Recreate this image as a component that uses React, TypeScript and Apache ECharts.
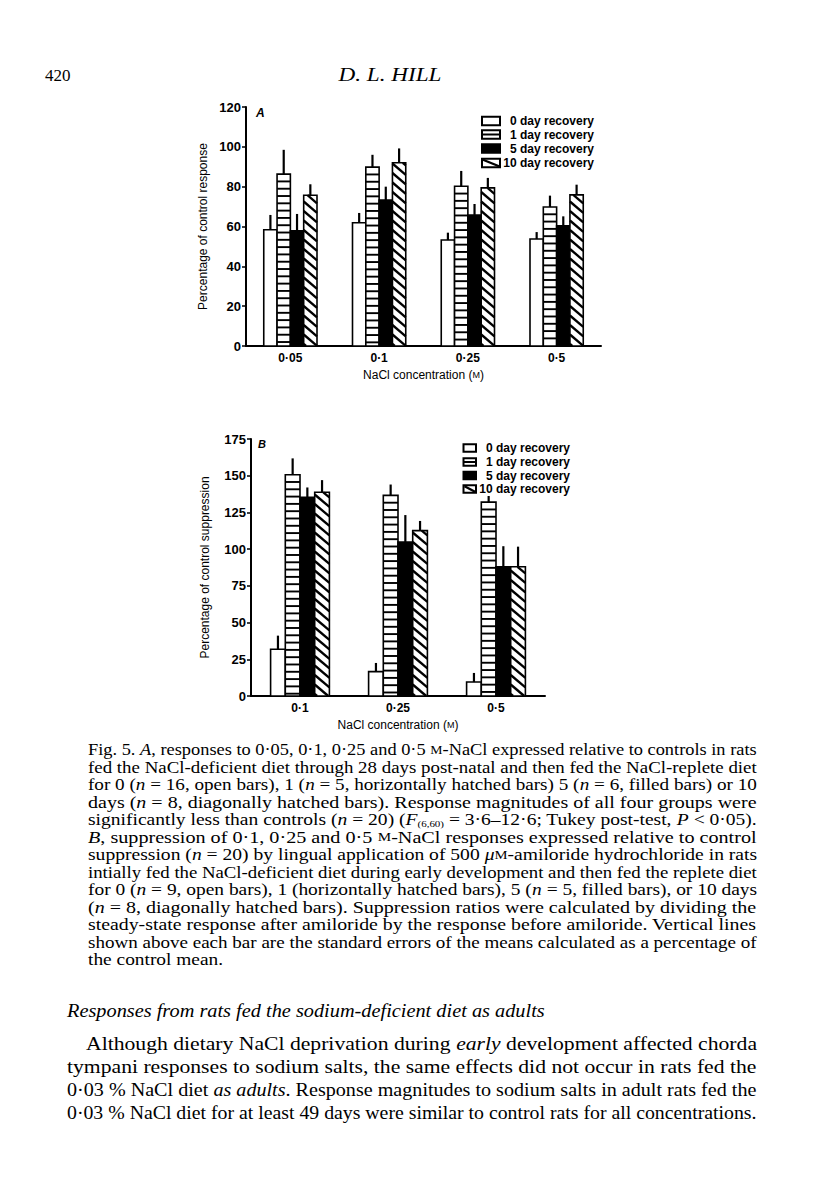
import React, { useEffect, useRef } from "react";
import * as echarts from "echarts";

// ---------- data ----------
const catsA = ["0·05", "0·1", "0·25", "0·5"];
const catsB = ["0·1", "0·25", "0·5"];
const groups = ["0 day recovery", "1 day recovery", "5 day recovery", "10 day recovery"];
const kinds = ["open", "hstripe", "filled", "diag"];

// Panel A: percentage of control response (means and s.e.m.)
const meanA0 = [58.4, 61.9, 53.2, 53.7];
const meanA1 = [86.3, 89.8, 80.2, 69.8];
const meanA5 = [57.9, 73.3, 65.8, 60.3];
const meanA10 = [75.7, 92.0, 79.4, 75.9];
const semA0 = [7.4, 4.9, 3.7, 3.5];
const semA1 = [12.2, 6.2, 7.7, 5.7];
const semA5 = [8.4, 6.7, 5.5, 4.8];
const semA10 = [5.5, 7.2, 5.0, 5.1];

// Panel B: percentage of control suppression
const meanB0 = [31.8, 16.6, 9.5];
const meanB1 = [150.7, 136.6, 132.0];
const meanB5 = [135.3, 104.9, 88.0];
const meanB10 = [138.7, 112.6, 88.0];
const semB0 = [9.3, 5.9, 6.2];
const semB1 = [11.1, 7.4, 4.2];
const semB5 = [6.7, 18.3, 14.0];
const semB10 = [8.3, 6.6, 13.7];

const yMaxA = 120, yStepA = 20;
const yMaxB = 175, yStepB = 25;

// ---------- page text ----------
type Tok = [string, string];
const captionLines: Tok[][] = [
  [["Fig. 5. ", "r"], ["A", "i"], [", responses to 0·05, 0·1, 0·25 and 0·5 ", "r"], ["M", "sc"], ["-NaCl expressed relative to controls in rats", "r"]],
  [["fed the NaCl-deficient diet through 28 days post-natal and then fed the NaCl-replete diet", "r"]],
  [["for 0 (", "r"], ["n", "i"], [" = 16, open bars), 1 (", "r"], ["n", "i"], [" = 5, horizontally hatched bars) 5 (", "r"], ["n", "i"], [" = 6, filled bars) or 10", "r"]],
  [["days (", "r"], ["n", "i"], [" = 8, diagonally hatched bars). Response magnitudes of all four groups were", "r"]],
  [["significantly less than controls (", "r"], ["n", "i"], [" = 20) (", "r"], ["F", "i"], ["(6,60)", "sub"], [" = 3·6–12·6; Tukey post-test, ", "r"], ["P", "i"], [" < 0·05).", "r"]],
  [["B", "i"], [", suppression of 0·1, 0·25 and 0·5 ", "r"], ["M", "sc"], ["-NaCl responses expressed relative to control", "r"]],
  [["suppression (", "r"], ["n", "i"], [" = 20) by lingual application of 500 ", "r"], ["μ", "i"], ["M", "sc"], ["-amiloride hydrochloride in rats", "r"]],
  [["intially fed the NaCl-deficient diet during early development and then fed the replete diet", "r"]],
  [["for 0 (", "r"], ["n", "i"], [" = 9, open bars), 1 (horizontally hatched bars), 5 (", "r"], ["n", "i"], [" = 5, filled bars), or 10 days", "r"]],
  [["(", "r"], ["n", "i"], [" = 8, diagonally hatched bars). Suppression ratios were calculated by dividing the", "r"]],
  [["steady-state response after amiloride by the response before amiloride. Vertical lines", "r"]],
  [["shown above each bar are the standard errors of the means calculated as a percentage of", "r"]],
  [["the control mean.", "r"]],
];
const headingLine: Tok[] = [["Responses from rats fed the sodium-deficient diet as adults", "i"]];
const paraLines: Tok[][] = [
  [["Although dietary NaCl deprivation during ", "r"], ["early", "i"], [" development affected chorda", "r"]],
  [["tympani responses to sodium salts, the same effects did not occur in rats fed the", "r"]],
  [["0·03 % NaCl diet ", "r"], ["as adults", "i"], [". Response magnitudes to sodium salts in adult rats fed the", "r"]],
  [["0·03 % NaCl diet for at least 49 days were similar to control rats for all concentrations.", "r"]],
];

const SANS = "'Liberation Sans', Arial, Helvetica, sans-serif";
const SERIF = "'Liberation Serif', 'Times New Roman', serif";
const GROUP_FRACTION = 0.6;

function makeBarRender(k: number, kind: string) {
  return (_params: any, api: any) => {
    const cat = api.value(0);
    const mean = api.value(1);
    const errTop = api.value(2);
    const base = api.coord([cat, 0]);
    const topPt = api.coord([cat, mean]);
    const errPt = api.coord([cat, errTop]);
    const band = api.size([1, 0])[0];
    const w = (band * GROUP_FRACTION) / 4;
    const x0 = base[0] - 2 * w + k * w;
    const x1 = x0 + w;
    const top = topPt[1];
    const bottom = base[1];
    const children: any[] = [];
    children.push({
      type: "rect",
      shape: { x: x0, y: top, width: w, height: bottom - top },
      style: { fill: kind === "filled" ? "#000" : "#fff", stroke: "none" },
    });
    if (kind === "hstripe") {
      for (let y = top + 7.3; y < bottom - 1.5; y += 7.3) {
        children.push({
          type: "line",
          shape: { x1: x0, y1: y, x2: x1, y2: y },
          style: { stroke: "#000", lineWidth: 1.9 },
        });
      }
    }
    if (kind === "diag") {
      const s = 0.85;
      const p = 9.5;
      for (let c = bottom - 2; c > top - s * w - p; c -= p) {
        const xa = x0 + (top - c) / s;
        const xb = x0 + (bottom - c) / s;
        const sx = Math.max(x0, xa);
        const ex = Math.min(x1, xb);
        if (ex - sx > 0.6) {
          children.push({
            type: "line",
            shape: { x1: sx, y1: c + s * (sx - x0), x2: ex, y2: c + s * (ex - x0) },
            style: { stroke: "#000", lineWidth: 2.3 },
          });
        }
      }
    }
    children.push({
      type: "rect",
      shape: { x: x0, y: top, width: w, height: bottom - top },
      style: { fill: "none", stroke: "#000", lineWidth: 1.6 },
    });
    children.push({
      type: "line",
      shape: { x1: (x0 + x1) / 2, y1: top, x2: (x0 + x1) / 2, y2: errPt[1] },
      style: { stroke: "#000", lineWidth: 2.2 },
    });
    return { type: "group", children };
  };
}

function legendSymbol(kind: string, x: number, yc: number, w: number, h: number): any[] {
  const y = yc - h / 2;
  const els: any[] = [];
  els.push({
    type: "rect",
    shape: { x, y, width: w, height: h },
    style: { fill: kind === "filled" ? "#000" : "#fff", stroke: "#000", lineWidth: 2 },
  });
  if (kind === "hstripe") {
    els.push({ type: "line", shape: { x1: x, y1: yc, x2: x + w, y2: yc }, style: { stroke: "#000", lineWidth: 2 } });
  }
  if (kind === "diag") {
    els.push({ type: "line", shape: { x1: x + 1, y1: y + 1, x2: x + w - 1, y2: y + h - 1 }, style: { stroke: "#000", lineWidth: 2.4 } });
  }
  return els;
}

function nb(t: string) {
  return t.replace(/^ /, "\u00A0").replace(/ $/, "\u00A0");
}

export default function App() {
  const ref = useRef<HTMLDivElement>(null);
  useEffect(() => {
    if (!ref.current) return;
    const chart = echarts.init(ref.current, undefined, { renderer: "svg" });

    const ctx = document.createElement("canvas").getContext("2d") as CanvasRenderingContext2D;
    const mkStyles = (size: number) => ({
      r: { fontFamily: SERIF, fontSize: size, fill: "#000" },
      i: { fontFamily: SERIF, fontSize: size, fontStyle: "italic", fill: "#000" },
      sc: { fontFamily: SERIF, fontSize: Math.round(size * 0.74), fill: "#000" },
      sub: { fontFamily: SERIF, fontSize: Math.round(size * 0.58), fill: "#000", verticalAlign: "bottom" },
    });
    const measure = (toks: Tok[], styles: any) => {
      let w = 0;
      for (const [t, k] of toks) {
        const s = styles[k];
        ctx.font = `${s.fontStyle || "normal"} normal ${s.fontSize}px ${s.fontFamily}`;
        w += ctx.measureText(nb(t)).width;
      }
      return w;
    };
    const richStr = (toks: Tok[]) => toks.map(([t, k]) => `{${k}|${nb(t)}}`).join("");

    const textEls: any[] = [];
    const capStyles = mkStyles(16);
    const capScales: number[] = [];
    captionLines.forEach((toks, i) => {
      if (i < captionLines.length - 1) capScales.push(669 / measure(toks, capStyles));
    });
    const avgCap = capScales.reduce((a, b) => a + b, 0) / capScales.length;
    captionLines.forEach((toks, i) => {
      const sc = i < captionLines.length - 1 ? capScales[i] : avgCap;
      textEls.push({
        type: "text",
        x: 88,
        y: 750 + i * 17.5,
        scaleX: sc,
        style: { text: richStr(toks), rich: capStyles, fill: "#000", align: "left", verticalAlign: "middle", fontFamily: SERIF, fontSize: 16 },
      });
    });

    const parStyles = mkStyles(18);
    const paraY = [1044, 1067, 1090, 1113];
    paraLines.forEach((toks, i) => {
      const x = i === 0 ? 86 : 67;
      const sc = (757 - x) / measure(toks, parStyles);
      textEls.push({
        type: "text",
        x,
        y: paraY[i],
        scaleX: sc,
        style: { text: richStr(toks), rich: parStyles, fill: "#000", align: "left", verticalAlign: "middle", fontFamily: SERIF, fontSize: 18 },
      });
    });
    textEls.push({
      type: "text",
      x: 67,
      y: 1011,
      scaleX: 478 / measure(headingLine, parStyles),
      style: { text: richStr(headingLine), rich: parStyles, fill: "#000", align: "left", verticalAlign: "middle", fontFamily: SERIF, fontSize: 18 },
    });
    textEls.push({
      type: "text", x: 45, y: 75,
      style: { text: "420", fill: "#000", fontFamily: SERIF, fontSize: 17, align: "left", verticalAlign: "middle" },
    });
    ctx.font = `italic normal 18px ${SERIF}`;
    const hillW = ctx.measureText("D. L. HILL").width;
    textEls.push({
      type: "text", x: 390, y: 75, scaleX: 103 / hillW,
      style: { text: "D. L. HILL", fill: "#000", fontFamily: SERIF, fontSize: 18, fontStyle: "italic", align: "center", verticalAlign: "middle" },
    });

    // panel letters
    textEls.push({ type: "text", x: 256, y: 113, style: { text: "A", fill: "#000", fontFamily: SANS, fontSize: 12, fontStyle: "italic", fontWeight: "bold", align: "left", verticalAlign: "middle" } });
    textEls.push({ type: "text", x: 258, y: 444, style: { text: "B", fill: "#000", fontFamily: SANS, fontSize: 11, fontStyle: "italic", fontWeight: "bold", align: "left", verticalAlign: "middle" } });

    // legends
    const legYA = [121, 134.5, 148.5, 163];
    const legYB = [448, 462, 475.5, 489];
    groups.forEach((g, k) => {
      legendSymbol(kinds[k], 482, legYA[k], 18, 8.5).forEach((e) => textEls.push(e));
      textEls.push({ type: "text", x: 594, y: legYA[k], style: { text: g, fill: "#000", fontFamily: SANS, fontSize: 12, fontWeight: "bold", align: "right", verticalAlign: "middle" } });
      legendSymbol(kinds[k], 463.5, legYB[k], 12.5, 7.5).forEach((e) => textEls.push(e));
      textEls.push({ type: "text", x: 570, y: legYB[k], style: { text: g, fill: "#000", fontFamily: SANS, fontSize: 12, fontWeight: "bold", align: "right", verticalAlign: "middle" } });
    });

    const meansA = [meanA0, meanA1, meanA5, meanA10];
    const semsA = [semA0, semA1, semA5, semA10];
    const meansB = [meanB0, meanB1, meanB5, meanB10];
    const semsB = [semB0, semB1, semB5, semB10];

    const series: any[] = [];
    groups.forEach((g, k) => {
      series.push({
        type: "custom",
        name: g,
        xAxisIndex: 0,
        yAxisIndex: 0,
        renderItem: makeBarRender(k, kinds[k]),
        encode: { x: 0, y: 1 },
        data: meansA[k].map((m, i) => [i, m, m + semsA[k][i]]),
      });
      series.push({
        type: "custom",
        name: g,
        xAxisIndex: 1,
        yAxisIndex: 1,
        renderItem: makeBarRender(k, kinds[k]),
        encode: { x: 0, y: 1 },
        data: meansB[k].map((m, i) => [i, m, m + semsB[k][i]]),
      });
    });

    const tickLabel = { color: "#000", fontFamily: SANS, fontSize: 13, fontWeight: "bold" };
    const nameStyle = {
      color: "#000", fontFamily: SANS, fontSize: 12, fontWeight: 500,
      rich: { sc: { color: "#000", fontFamily: SANS, fontSize: 9 } },
    };
    const xAxisCommon = {
      type: "category",
      axisLine: { show: true, lineStyle: { color: "#000", width: 2 } },
      axisTick: { show: false },
      axisLabel: { ...tickLabel, fontSize: 12, margin: 6 },
      splitLine: { show: false },
      name: "NaCl concentration ({sc|M})",
      nameLocation: "middle",
      nameGap: 23,
      nameTextStyle: nameStyle,
    };
    const yAxisCommon = {
      type: "value",
      min: 0,
      axisLine: { show: true, lineStyle: { color: "#000", width: 2 } },
      axisTick: { show: true, length: 4, lineStyle: { color: "#000", width: 1.5 } },
      axisLabel: { ...tickLabel, margin: 5 },
      splitLine: { show: false },
      nameLocation: "middle",
      nameRotate: 90,
      nameTextStyle: nameStyle,
    };

    chart.setOption({
      animation: false,
      backgroundColor: "#fff",
      grid: [
        { left: 246, right: 215, top: 107, bottom: 852 },
        { left: 251, right: 271, top: 439, bottom: 502 },
      ],
      xAxis: [
        { ...xAxisCommon, gridIndex: 0, data: catsA },
        { ...xAxisCommon, gridIndex: 1, data: catsB },
      ],
      yAxis: [
        { ...yAxisCommon, gridIndex: 0, max: yMaxA, interval: yStepA, name: "Percentage of control response", nameGap: 37 },
        { ...yAxisCommon, gridIndex: 1, max: yMaxB, interval: yStepB, name: "Percentage of control suppression", nameGap: 40 },
      ],
      series,
      graphic: { elements: textEls },
    });
    return () => chart.dispose();
  }, []);
  return <div ref={ref} style={{ position: "absolute", left: 0, top: 0, width: 816, height: 1198 }} />;
}
